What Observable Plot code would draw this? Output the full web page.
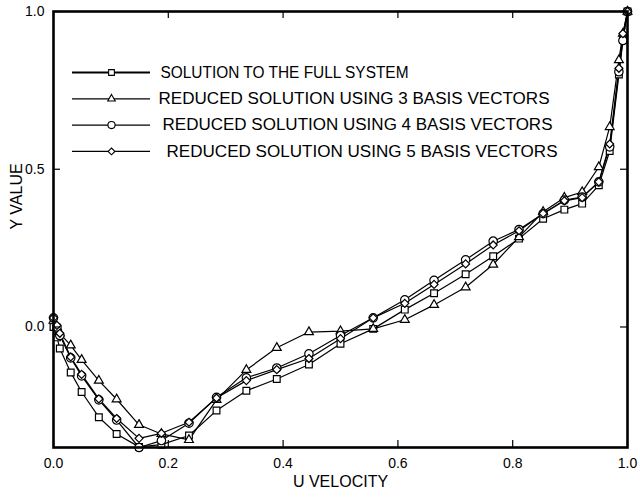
<!DOCTYPE html>
<html><head><meta charset="utf-8">
<script src="https://cdn.jsdelivr.net/npm/d3@7"></script>
<script src="https://cdn.jsdelivr.net/npm/@observablehq/plot@0.6"></script>
<style>
body{margin:0;background:#fff;}
#chart svg{display:block;}
</style></head><body><div id="chart"></div>
<script>
// ---- data ----
const uVelocity = [0.000, 0.006, 0.011, 0.030, 0.049, 0.079, 0.110, 0.149, 0.188, 0.236, 0.284, 0.336, 0.389, 0.445, 0.500, 0.557, 0.612, 0.663, 0.718, 0.766, 0.811, 0.853, 0.890, 0.921, 0.950, 0.969, 0.985, 0.992, 1.000];
const yFull   = [0.000, -0.033, -0.068, -0.144, -0.206, -0.286, -0.339, -0.380, -0.373, -0.344, -0.265, -0.202, -0.165, -0.119, -0.053, -0.006, 0.055, 0.107, 0.167, 0.224, 0.280, 0.343, 0.372, 0.391, 0.449, 0.558, 0.800, 0.910, 1.000];
const yBasis3 = [0.020, 0.000, -0.020, -0.058, -0.104, -0.170, -0.229, -0.310, -0.339, -0.358, -0.231, -0.136, -0.066, -0.016, -0.013, -0.006, 0.023, 0.070, 0.126, 0.198, 0.285, 0.365, 0.410, 0.428, 0.507, 0.634, 0.846, 0.930, 1.000];
const yBasis4 = [0.029, 0.000, -0.027, -0.098, -0.155, -0.231, -0.295, -0.382, -0.360, -0.305, -0.223, -0.161, -0.130, -0.085, -0.027, 0.029, 0.086, 0.148, 0.213, 0.272, 0.309, 0.359, 0.402, 0.412, 0.460, 0.571, 0.809, 0.908, 1.000];
const yBasis5 = [0.029, 0.005, -0.020, -0.095, -0.150, -0.228, -0.290, -0.353, -0.337, -0.302, -0.225, -0.170, -0.135, -0.100, -0.037, 0.029, 0.075, 0.135, 0.200, 0.260, 0.305, 0.360, 0.400, 0.410, 0.460, 0.580, 0.820, 0.930, 1.000];
const seriesNames = ["SOLUTION TO THE FULL SYSTEM", "REDUCED SOLUTION USING 3 BASIS VECTORS", "REDUCED SOLUTION USING 4 BASIS VECTORS", "REDUCED SOLUTION USING 5 BASIS VECTORS"];
const xTicks = [0, 0.2, 0.4, 0.6, 0.8, 1.0];
const yTicks = [0, 0.5, 1.0];
const xLabel = "U VELOCITY";
const yLabel = "Y VALUE";

// ---- layout ----
const W = 640, H = 497, mL = 53, mR = 13, mT = 11, mB = 50;
const xDomain = [0, 1], yDomain = [-0.382, 1];
const plotW = W - mL - mR, plotH = H - mT - mB;
const symbols = ["square", "triangle", "circle", "diamond2"];
const radii = [3.8, 3.3, 4.2, 3.6];
const series = [yFull, yBasis3, yBasis4, yBasis5];
const rows = series.flatMap((ys, k) => ys.map((y, i) => ({u: uVelocity[i], y, s: k})));

// legend placed in pixel space, converted through the scale domains
const legendTextX = [160, 158, 162, 166];
const legendTextLen = [248, 391, 390, 391];
const px2x = p => xDomain[0] + (p - mL) / plotW * (xDomain[1] - xDomain[0]);
const py2y = p => yDomain[1] - (p - mT) / plotH * (yDomain[1] - yDomain[0]);
const legend = seriesNames.map((name, k) => ({
  name, k,
  x1: px2x(72), x2: px2x(150), xm: px2x(111), xt: px2x(legendTextX[k]),
  y: py2y(72 + k * 26.3)
}));

const font = "'Liberation Sans', Arial, Helvetica, sans-serif";
const marks = [];
series.forEach((ys, k) => {
  marks.push(Plot.line(rows.filter(d => d.s === k), {x: "u", y: "y", stroke: "black", strokeWidth: 1.2}));
});
series.forEach((ys, k) => {
  marks.push(Plot.dot(rows.filter(d => d.s === k), {x: "u", y: "y", symbol: () => symbols[k], r: radii[k], stroke: "black", fill: "white", strokeWidth: 1.2}));
});
legend.forEach(d => {
  marks.push(Plot.ruleY([d], {x1: "x1", x2: "x2", y: "y", stroke: "black", strokeWidth: d.k === 0 ? 2 : 1.2}));
  marks.push(Plot.dot([d], {x: "xm", y: "y", symbol: () => symbols[d.k], r: radii[d.k] * 0.85, stroke: "black", fill: "white", strokeWidth: 1.1}));
  marks.push(Plot.text([d], {x: "xt", y: "y", text: "name", textAnchor: "start", fontSize: 16, fill: "black"}));
});
marks.push(Plot.tickX(xTicks, {x: d => d, insetTop: plotH - 7, stroke: "black", strokeWidth: 1.2}));
marks.push(Plot.tickX(xTicks, {x: d => d, insetBottom: plotH - 7, stroke: "black", strokeWidth: 1.2}));
marks.push(Plot.tickY(yTicks, {y: d => d, insetRight: plotW - 7, stroke: "black", strokeWidth: 1.2}));
marks.push(Plot.tickY(yTicks, {y: d => d, insetLeft: plotW - 7, stroke: "black", strokeWidth: 1.2}));
marks.push(Plot.axisX(xTicks, {tickSize: 0, tickPadding: 11, tickFormat: d3.format(".1f"), fontSize: 14, label: null}));
marks.push(Plot.axisY(yTicks, {tickSize: 0, tickPadding: 9, tickFormat: d3.format(".1f"), fontSize: 14, label: null}));
marks.push(Plot.text([xLabel], {frameAnchor: "bottom", dy: 39, text: d => d, fontSize: 16}));
marks.push(Plot.text([yLabel], {frameAnchor: "left", dx: -37, rotate: -90, text: d => d, fontSize: 16}));
marks.push(Plot.frame({stroke: "black", strokeWidth: 2.6}));

const chart = Plot.plot({
  width: W, height: H,
  marginLeft: mL, marginRight: mR, marginTop: mT, marginBottom: mB,
  x: {domain: xDomain},
  y: {domain: yDomain},
  style: {fontFamily: font, background: "white", color: "black"},
  marks
});
// stretch legend labels to the widths seen in the reference
chart.querySelectorAll("text").forEach(t => {
  const k = seriesNames.indexOf(t.textContent);
  if (k >= 0) {
    t.setAttribute("textLength", legendTextLen[k]);
    t.setAttribute("lengthAdjust", "spacingAndGlyphs");
  }
});
document.getElementById("chart").append(chart);
</script></body></html>
